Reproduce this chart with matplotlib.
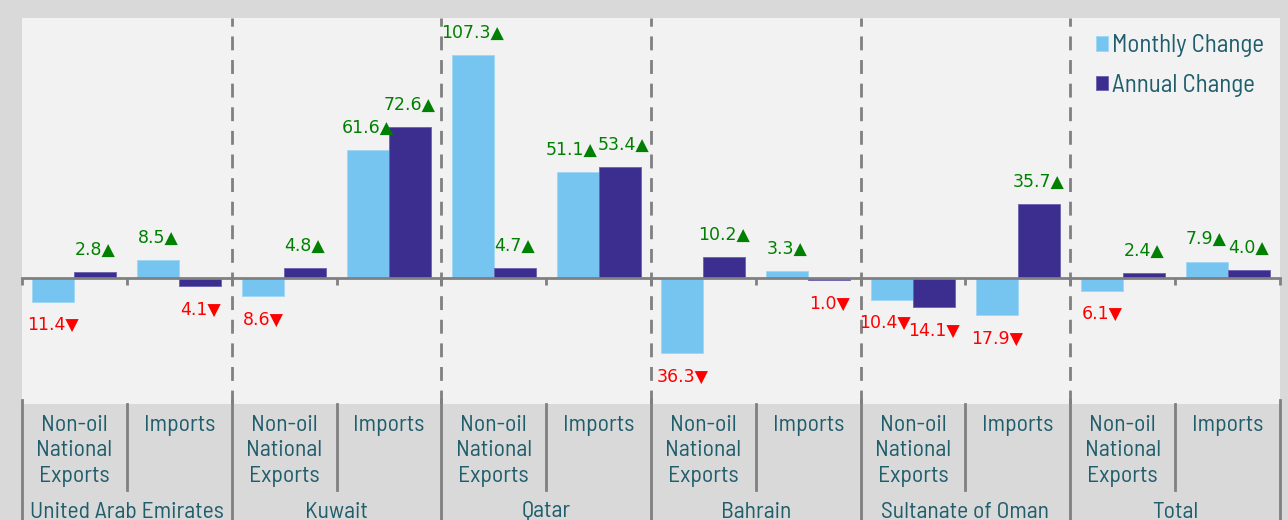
import numpy as np
import matplotlib
matplotlib.use('Agg')
import matplotlib.pyplot as plt
from matplotlib.transforms import blended_transform_factory
from matplotlib.lines import Line2D

countries = ['United Arab Emirates', 'Kuwait', 'Qatar', 'Bahrain', 'Sultanate of Oman', 'Total']
sub_labels = ['Non-oil\nNational\nExports', 'Imports']
monthly = [-11.4, 8.5, -8.6, 61.6, 107.3, 51.1, -36.3, 3.3, -10.4, -17.9, -6.1, 7.9]
annual = [2.8, -4.1, 4.8, 72.6, 4.7, 53.4, 10.2, -1.0, -14.1, 35.7, 2.4, 4.0]

c_month = '#75c5f0'
c_annual = '#3b2e8e'
c_text = '#205e6c'
c_line = '#808080'
band_font = ['Barlow Semi Condensed', 'DejaVu Sans']

W, H = 1288, 520
fig = plt.figure(figsize=(12.88, 5.20), dpi=100, facecolor='#d9d9d9')
ax = fig.add_axes([22 / W, (H - 404) / H, (1280 - 22) / W, (404 - 18) / H])
ax.set_facecolor('#f2f2f2')

x = np.arange(len(monthly))
b1 = ax.bar(x - 0.2, monthly, width=0.4, color=c_month, edgecolor='#9fd6f4', linewidth=0.6,
            label='Monthly Change', zorder=3)
b2 = ax.bar(x + 0.2, annual, width=0.4, color=c_annual, edgecolor='#6a60b0', linewidth=0.6,
            label='Annual Change', zorder=3)

ax.set_xlim(-0.5, len(monthly) - 0.5)
ax.set_ylim(-60.6, 125)

# zero axis with ticks at category boundaries
for s in ['top', 'right', 'left']:
    ax.spines[s].set_visible(False)
ax.spines['bottom'].set_position(('data', 0))
ax.spines['bottom'].set_color(c_line)
ax.spines['bottom'].set_linewidth(2)
ax.spines['bottom'].set_zorder(4)
ax.set_xticks(np.arange(-0.5, len(monthly), 1))
ax.set_xticklabels([])
ax.tick_params(axis='x', direction='out', length=5, width=2, color=c_line)
ax.set_yticks([])

# dashed separators between countries
for b in np.arange(1.5, len(monthly) - 1, 2):
    ax.axvline(b, color=c_line, linestyle=(0, (5, 3.5)), linewidth=2, zorder=2)

# value labels; push apart pairs of labels that would collide
def label(v, cx, dx):
    if v >= 0:
        ax.annotate(f'{abs(v):.1f}\u25b2', (cx, v), xytext=(dx, 16), textcoords='offset points',
                    ha='center', va='center', color='#008000', fontsize=12.5, zorder=5)
    else:
        ax.annotate(f'{abs(v):.1f}\u25bc', (cx, v), xytext=(dx, -17), textcoords='offset points',
                    ha='center', va='center', color='#ff0000', fontsize=12.5, zorder=5)

for i in range(len(monthly)):
    m, a = monthly[i], annual[i]
    dm, da = 0, 0
    if m > 0 and a > 0 and abs(m - a) < 5 and min(m, a) >= 10:
        dm, da = -4, 3
    elif m < 0 and a < 0 and abs(m - a) < 10:
        dm = -5
    label(m, b1[i].get_x() + 0.2, dm)
    label(a, b2[i].get_x() + 0.2, da)

leg = ax.legend(loc='upper right', bbox_to_anchor=(1.005, 1.016), frameon=False,
                handlelength=0.5, handleheight=0.5, handletextpad=0.15, labelspacing=0.65,
                prop={'family': band_font, 'size': 18})
for t in leg.get_texts():
    t.set_color(c_text)

# category band below the plot
tr = blended_transform_factory(ax.transData, fig.transFigure)
fy = lambda py: (H - py) / H
for i in range(len(monthly)):
    if i % 2 == 0:
        ax.text(i, fy(451), sub_labels[0], transform=tr, ha='center', va='center',
                multialignment='center', color=c_text, fontsize=17, family=band_font,
                linespacing=1.3)
    else:
        ax.text(i, fy(426), sub_labels[1], transform=tr, ha='center', va='center',
                color=c_text, fontsize=17, family=band_font)
for j, name in enumerate(countries):
    ax.text(2 * j + 0.5, fy(512), name, transform=tr, ha='center', va='center',
            color=c_text, fontsize=17, family=band_font)

for i in range(len(monthly) + 1):
    b = i - 0.5
    if i % 2 == 1:
        ln = Line2D([b, b], [fy(404), fy(490)], transform=tr, color=c_line, linewidth=2, clip_on=False)
    else:
        ln = Line2D([b, b], [fy(400), fy(520)], transform=tr, color=c_line, linewidth=2, clip_on=False)
    fig.add_artist(ln)

fig.savefig('out.png', dpi=100, facecolor=fig.get_facecolor())
